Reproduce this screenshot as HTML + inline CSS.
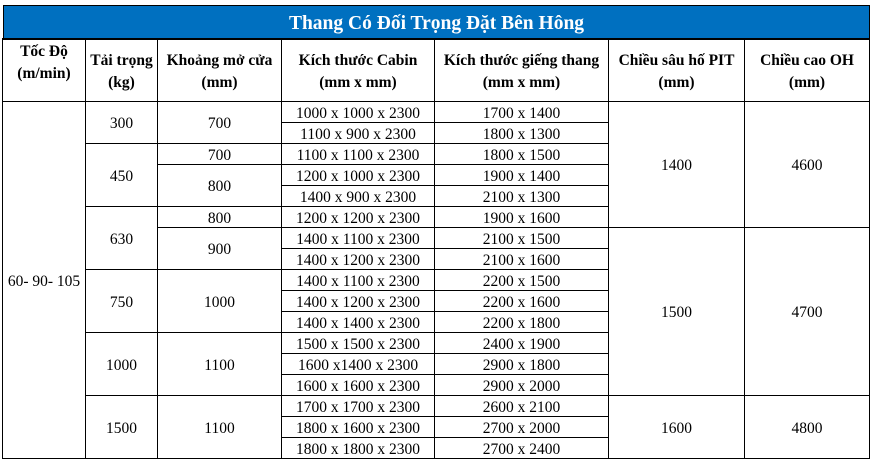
<!DOCTYPE html>
<html><head><meta charset="utf-8"><style>
body{margin:0;width:875px;height:465px;background:#fff;position:relative;overflow:hidden;font-family:"Liberation Serif",serif;}
.c{position:absolute;box-sizing:border-box;border:1px solid #000;display:flex;align-items:center;justify-content:center;text-align:center;font-size:15.5px;color:#000;line-height:22px;margin-left:-1px;margin-top:-1px;padding-top:3px;}
.h{font-weight:bold;}
.t{position:absolute;left:3px;top:5px;width:867px;height:35px;background:#0070C0;color:#fff;font-weight:bold;font-size:19.5px;display:flex;align-items:center;justify-content:center;border:1px solid #000;box-sizing:border-box;padding-top:2px;}
</style></head><body>
<div class="t">Thang Có Đối Trọng Đặt Bên Hông</div>
<script>
var X=[3,86,158,282,435,609,745,870];
function cell(c0,c1,r0,r1,txt,cls){
 var y0=r0<0?39:102+21*r0, y1=r1<0?102:102+21*(r1+1);
 var d=document.createElement('div');d.className='c '+(cls||'');
 d.style.left=X[c0]+'px';d.style.width=(X[c1]-X[c0]+1)+'px';
 d.style.top=y0+'px';d.style.height=(y1-y0+1)+'px';d.innerHTML=txt;document.body.appendChild(d);return d;}
var H=['Tốc Độ<br>(m/min)','Tải trọng<br>(kg)','Khoảng mở cửa<br>(mm)','Kích thước Cabin<br>(mm x mm)','Kích thước giếng thang<br>(mm x mm)','Chiều sâu hố PIT<br>(mm)','Chiều cao OH<br>(mm)'];
H.forEach(function(t,i){var d=cell(i,i+1,-1,-1,t,'h');if(i==0){d.style.alignItems='flex-start';d.style.paddingTop='2px';}});
cell(0,1,0,16,'60- 90- 105');
[[0,1,'300'],[2,4,'450'],[5,7,'630'],[8,10,'750'],[11,13,'1000'],[14,16,'1500']].forEach(function(a){cell(1,2,a[0],a[1],a[2]);});
[[0,1,'700'],[2,2,'700'],[3,4,'800'],[5,5,'800'],[6,7,'900'],[8,10,'1000'],[11,13,'1100'],[14,16,'1100']].forEach(function(a){cell(2,3,a[0],a[1],a[2]);});
var cab=['1000 x 1000 x 2300','1100 x 900 x 2300','1100 x 1100 x 2300','1200 x 1000 x 2300','1400 x 900 x 2300','1200 x 1200 x 2300','1400 x 1100 x 2300','1400 x 1200 x 2300','1400 x 1100 x 2300','1400 x 1200 x 2300','1400 x 1400 x 2300','1500 x 1500 x 2300','1600 x1400 x 2300','1600 x 1600 x 2300','1700 x 1700 x 2300','1800 x 1600 x 2300','1800 x 1800 x 2300'];
var gi=['1700 x 1400','1800 x 1300','1800 x 1500','1900 x 1400','2100 x 1300','1900 x 1600','2100 x 1500','2100 x 1600','2200 x 1500','2200 x 1600','2200 x 1800','2400 x 1900','2900 x 1800','2900 x 2000','2600 x 2100','2700 x 2000','2700 x 2400'];
for(var i=0;i<17;i++){cell(3,4,i,i,cab[i]);cell(4,5,i,i,gi[i]);}
[[0,5,'1400','4600'],[6,13,'1500','4700'],[14,16,'1600','4800']].forEach(function(a){cell(5,6,a[0],a[1],a[2]);cell(6,7,a[0],a[1],a[3]);});
</script>
</body></html>
